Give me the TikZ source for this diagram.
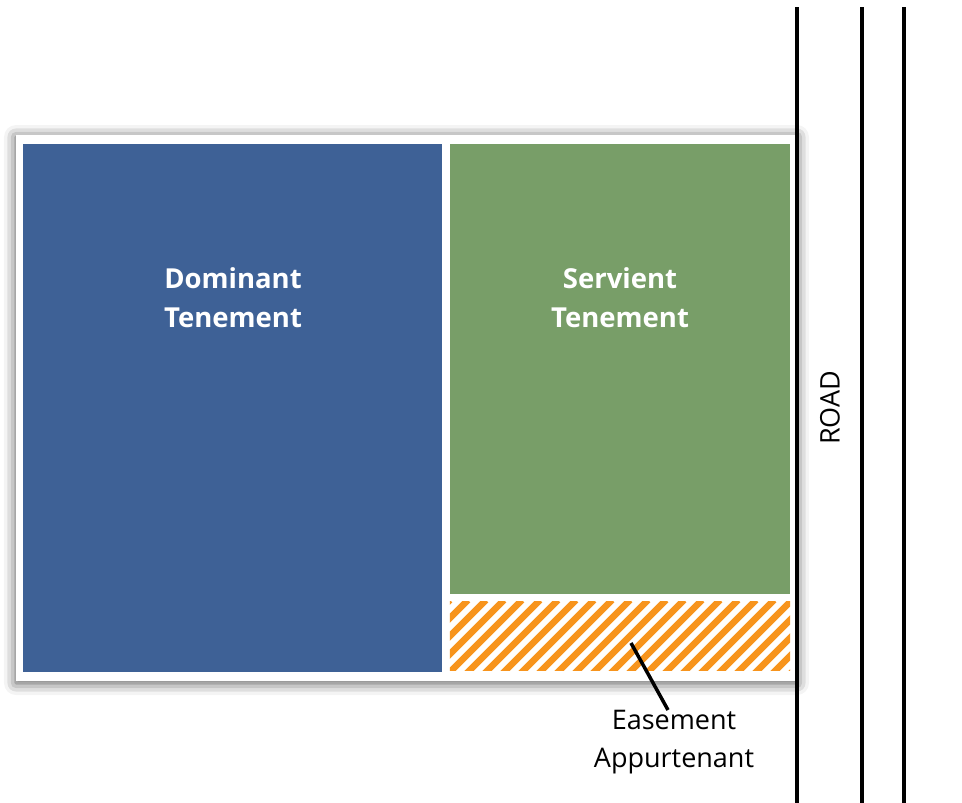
\documentclass[tikz,border=0pt]{standalone}
\usepackage{fontspec}
\setmainfont{Open Sans}
\usetikzlibrary{shadows.blur}
\definecolor{domblue}{HTML}{3E6196}
\definecolor{servgreen}{HTML}{789E68}
\definecolor{easeorange}{HTML}{F7941D}
\tikzset{
  lot/.style={draw=none, inner sep=0pt},
  lotlabel/.style={text=white, font=\bfseries\fontsize{27.5}{39}\selectfont, align=center},
  roadline/.style={line width=3.6pt, black},
  plainlabel/.style={font=\fontsize{27}{38}\selectfont, align=center},
}
\begin{document}
\begin{tikzpicture}[x=1pt,y=-1pt]
\useasboundingbox (0,0) rectangle (962,803);
% outer white parcel with shadow
\node[lot, fill=white, minimum width=781pt, minimum height=546pt,
  blur shadow={shadow xshift=0pt, shadow yshift=-2pt, shadow blur radius=12pt, shadow opacity=70}]
  (parcel) at (406.5,408) {};
% dominant tenement
\node[lot, fill=domblue, minimum width=419pt, minimum height=528pt] (dom) at (232.5,408) {};
% servient tenement
\node[lot, fill=servgreen, minimum width=340pt, minimum height=450pt] (serv) at (620,369) {};
% easement
\node[lot, minimum width=340pt, minimum height=68pt] (ease) at (620,636) {};
\begin{scope}
  \clip (ease.north west) rectangle (ease.south east);
  \foreach \i in {-6,...,26} {
    \draw[easeorange, line width=6.5pt] (450+\i*18,690) -- (450+\i*18+90,600);
  }
\end{scope}
\node[lotlabel] (domlabel) at (233,298) {Dominant\\Tenement};
\node[lotlabel] (servlabel) at (620,298) {Servient\\Tenement};
% road
\coordinate (r1t) at (797,7);   \coordinate (r1b) at (797,803);
\coordinate (r2t) at (862,7);   \coordinate (r2b) at (862,803);
\coordinate (r3t) at (904,7);   \coordinate (r3b) at (904,803);
\draw[roadline] (r1t) -- (r1b);
\draw[roadline] (r2t) -- (r2b);
\draw[roadline] (r3t) -- (r3b);
\node[rotate=90, font=\fontsize{27}{30}\selectfont] (road) at (830,408) {ROAD};
% easement label
\node[plainlabel] (easelabel) at (674,742) {Easement\\Appurtenant};
\coordinate (leadstart) at (631,643);
\draw[line width=3.5pt, black] (leadstart) -- (668,710);
\end{tikzpicture}
\end{document}
